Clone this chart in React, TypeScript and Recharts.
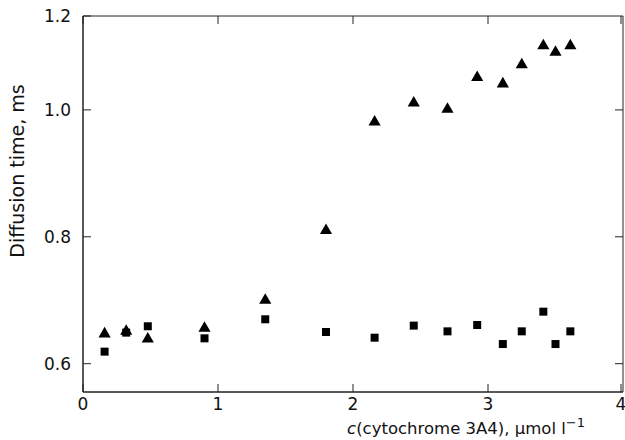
import React from 'react';
import { ScatterChart, Scatter, XAxis, YAxis, ReferenceArea } from 'recharts';

// c(cytochrome 3A4), µmol/l
const concentration = [0.16, 0.32, 0.48, 0.9, 1.35, 1.8, 2.16, 2.45, 2.7, 2.92, 3.11, 3.25, 3.41, 3.5, 3.61];
// diffusion times (ms)
const triangleTimes = [0.647, 0.651, 0.639, 0.656, 0.7, 0.81, 0.981, 1.011, 1.001, 1.051, 1.041, 1.071, 1.101, 1.091, 1.101];
const squareTimes = [0.619, 0.649, 0.659, 0.64, 0.67, 0.65, 0.641, 0.66, 0.651, 0.661, 0.631, 0.651, 0.682, 0.631, 0.651];

const xTicks = [0, 1, 2, 3, 4];
const yBottom = 0.5554;
const yTop = 1.148;
const yTicks = [0.6, 0.8, 1.0, yTop];
const yTickLabels = ['0.6', '0.8', '1.0', '1.2'];

const triangleData = concentration.map((c, i) => ({ c, t: triangleTimes[i] }));
const squareData = concentration.map((c, i) => ({ c, t: squareTimes[i] }));

const FONT = '"DejaVu Sans", Verdana, sans-serif';
const INK = '#111';
const FRAME = '#222';

const W = 625;
const H = 440;
const MARGIN = { top: 16, right: 2, bottom: 0, left: 0 };
const PLOT_TOP = MARGIN.top;
const PLOT_RIGHT = W - MARGIN.right;
const TICK_LEN = 8;

// bottom axis tick: inward tick on the bottom and the top of the frame, label below
const BottomTick = ({ x, y, payload }: any) => (
    <g>
        <line x1={x} x2={x} y1={y} y2={y - TICK_LEN} stroke={FRAME} />
        <line x1={x} x2={x} y1={PLOT_TOP} y2={PLOT_TOP + TICK_LEN} stroke={FRAME} />
        <text x={x} y={y + 5} dy="0.76em" textAnchor="middle" fill={INK} fontSize={17} fontFamily={FONT}>
            {payload.value}
        </text>
    </g>
);

// left axis tick: inward tick on the left and right of the frame, label at the left
const LeftTick = ({ x, y, payload }: any) => {
    const idx = yTicks.indexOf(payload.value);
    const isTop = payload.value === yTop;
    return (
        <g>
            <line x1={x} x2={x + TICK_LEN} y1={y} y2={y} stroke={FRAME} />
            {!isTop && <line x1={PLOT_RIGHT} x2={PLOT_RIGHT - TICK_LEN} y1={y} y2={y} stroke={FRAME} />}
            <text x={x - 12} y={y} dy="0.36em" textAnchor="end" fill={INK} fontSize={17} fontFamily={FONT}>
                {yTickLabels[idx]}
            </text>
        </g>
    );
};

const App = () => {
    return (
        <div style={{ width: W, height: H }}>
            <style>{'body { margin: 0; }'}</style>
            <ScatterChart width={W} height={H} margin={MARGIN} style={{ fontFamily: FONT }}>
                <XAxis
                    xAxisId="bottom"
                    type="number"
                    dataKey="c"
                    domain={[0, 4]}
                    ticks={xTicks}
                    height={48}
                    tickSize={0}
                    tickMargin={0}
                    tickLine={false}
                    stroke={FRAME}
                    tick={<BottomTick />}
                    allowDataOverflow
                    label={{
                        content: ({ viewBox }: any) => (
                            <text
                                x={viewBox.x + viewBox.width - 38}
                                y={viewBox.y + 42}
                                textAnchor="end"
                                fill={INK}
                                fontSize={16.5}
                                fontFamily={FONT}
                            >
                                <tspan fontStyle="italic">c</tspan>
                                <tspan>(cytochrome 3A4), µmol l</tspan>
                                <tspan dy={-7} fontSize={13}>−1</tspan>
                            </text>
                        ),
                    }}
                />
                <YAxis
                    yAxisId="left"
                    type="number"
                    dataKey="t"
                    domain={[yBottom, yTop]}
                    ticks={yTicks}
                    width={83}
                    tickSize={0}
                    tickMargin={0}
                    tickLine={false}
                    stroke={FRAME}
                    tick={<LeftTick />}
                    allowDataOverflow
                    label={{
                        content: ({ viewBox }: any) => {
                            const x = viewBox.x + 17;
                            const y = viewBox.y + viewBox.height / 2 - 33;
                            return (
                                <text
                                    x={x}
                                    y={y}
                                    transform={`rotate(-90, ${x}, ${y})`}
                                    textAnchor="middle"
                                    dominantBaseline="central"
                                    fill={INK}
                                    fontSize={19}
                                    fontFamily={FONT}
                                >
                                    Diffusion time, ms
                                </text>
                            );
                        },
                    }}
                />
                <ReferenceArea
                    xAxisId="bottom"
                    yAxisId="left"
                    x1={0}
                    x2={4}
                    y1={yBottom}
                    y2={yTop}
                    fill="none"
                    stroke={FRAME}
                    strokeOpacity={1}
                    ifOverflow="visible"
                />
                <Scatter
                    data={squareData}
                    xAxisId="bottom"
                    yAxisId="left"
                    shape="square"
                    size={72}
                    fill="#000"
                    isAnimationActive={false}
                />
                <Scatter
                    data={triangleData}
                    xAxisId="bottom"
                    yAxisId="left"
                    shape="triangle"
                    size={50}
                    fill="#000"
                    isAnimationActive={false}
                />
            </ScatterChart>
        </div>
    );
};

export default App;
